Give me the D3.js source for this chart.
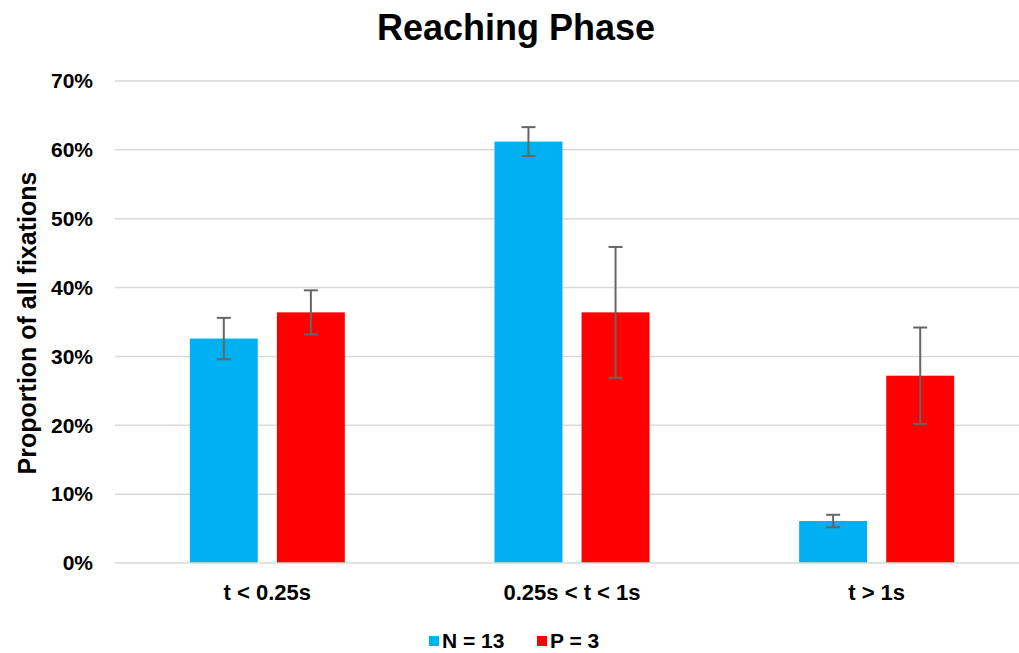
<!DOCTYPE html>
<html><head><meta charset="utf-8">
<script src="https://cdn.jsdelivr.net/npm/d3@7"></script>
<style>body{margin:0;background:#fff}svg{display:block}text{font-family:Arial,"Liberation Sans",sans-serif;font-weight:bold;fill:#000}</style>
</head><body>
<svg id="c" width="1019" height="653"></svg>
<script>
const categories = ["t < 0.25s", "0.25s < t < 1s", "t > 1s"];
const seriesNames = ["N = 13", "P = 3"];
const seriesColors = ["#00B0F0", "#FF0000"];
const valuesN = [32.6, 61.2, 6.1];
const valuesP = [36.4, 36.4, 27.2];
const errN = [3.0, 2.1, 0.9];
const errP = [3.2, 9.5, 7.0];
const yTicks = [0, 10, 20, 30, 40, 50, 60, 70];

const svg = d3.select("#c");
const x0 = d3.scaleBand().domain(categories).range([115, 1029]).paddingInner(0).paddingOuter(0);
const x1 = d3.scaleBand().domain(seriesNames).range([0, 155]).paddingInner(0.22);
const y = d3.scaleLinear().domain([0, 70]).range([563, 81]);

svg.append("g").selectAll("line").data(yTicks.filter(d => d > 0)).join("line")
  .attr("x1", 115).attr("x2", 1019).attr("y1", d => y(d)).attr("y2", d => y(d))
  .attr("stroke", "#d9d9d9").attr("stroke-width", 1.5);
svg.append("g").selectAll("text").data(yTicks).join("text")
  .attr("x", 93).attr("y", d => y(d)).attr("dy", "0.35em").attr("text-anchor", "end")
  .style("font-size", "21px").text(d => d + "%");

const data = [valuesN, valuesP];
const errs = [errN, errP];
const groups = svg.append("g");
categories.forEach((c, i) => {
  const cx = x0(c) + x0.bandwidth() / 2 - 77.5;
  seriesNames.forEach((s, j) => {
    const v = data[j][i];
    groups.append("rect").attr("x", cx + x1(s)).attr("width", x1.bandwidth())
      .attr("y", y(v)).attr("height", y(0) - y(v)).attr("fill", seriesColors[j]);
  });
});
svg.append("line").attr("x1", 115).attr("x2", 1019).attr("y1", y(0)).attr("y2", y(0))
  .attr("stroke", "#d9d9d9").attr("stroke-width", 1.5);
categories.forEach((c, i) => {
  const cx = x0(c) + x0.bandwidth() / 2 - 77.5;
  seriesNames.forEach((s, j) => {
    const v = data[j][i], e = errs[j][i];
    const mx = cx + x1(s) + x1.bandwidth() / 2;
    const g = groups.append("g").attr("stroke", "#666").attr("stroke-width", 2);
    g.append("line").attr("x1", mx).attr("x2", mx).attr("y1", y(v + e)).attr("y2", y(v - e));
    g.append("line").attr("x1", mx - 7).attr("x2", mx + 7).attr("y1", y(v + e)).attr("y2", y(v + e));
    g.append("line").attr("x1", mx - 7).attr("x2", mx + 7).attr("y1", y(v - e)).attr("y2", y(v - e));
  });
});
svg.append("g").selectAll("text").data(categories).join("text")
  .attr("x", d => x0(d) + x0.bandwidth() / 2).attr("y", 592).attr("dy", "0.35em")
  .attr("text-anchor", "middle").style("font-size", "22px").text(d => d);
svg.append("text").attr("x", 516).attr("y", 27).attr("dy", "0.35em").attr("text-anchor", "middle")
  .style("font-size", "36px").text("Reaching Phase");
svg.append("text").attr("transform", "translate(27,323) rotate(-90)").attr("dy", "0.35em")
  .attr("text-anchor", "middle").style("font-size", "25px").text("Proportion of all fixations");
const lx = [429, 537];
seriesNames.forEach((s, j) => {
  svg.append("rect").attr("x", lx[j]).attr("y", 636).attr("width", 10).attr("height", 10).attr("fill", seriesColors[j]);
  svg.append("text").attr("x", lx[j] + 13).attr("y", 648).style("font-size", "21px").text(s);
});
</script>
</body></html>
